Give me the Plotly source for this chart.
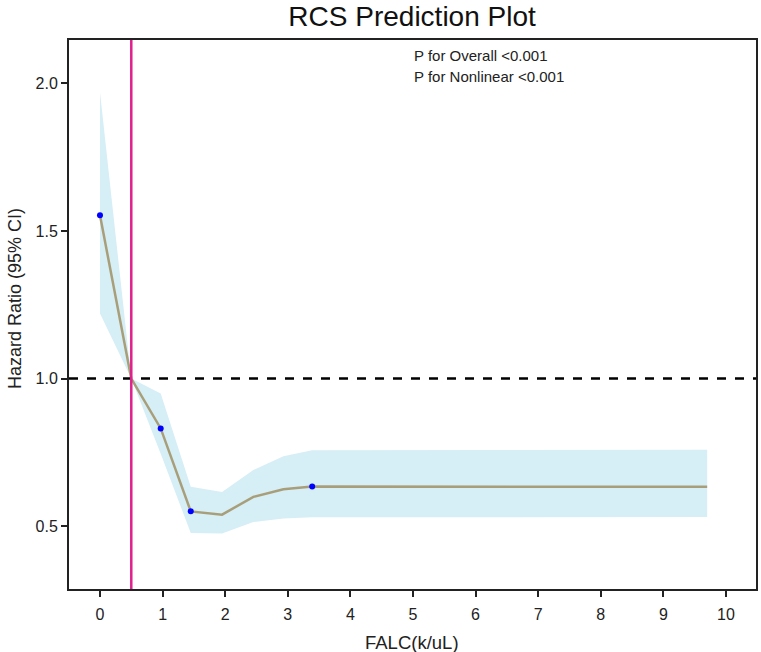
import plotly.graph_objects as go

# Curve (hazard ratio) and 95% CI band
x_vals = [0.0, 0.5, 0.97, 1.45, 1.95, 2.45, 2.93, 3.39, 9.7]
hr = [1.553, 1.0, 0.831, 0.550, 0.539, 0.599, 0.625, 0.634, 0.633]
ci_upper = [1.97, 1.0, 0.949, 0.633, 0.616, 0.690, 0.737, 0.757, 0.759]
ci_lower = [1.22, 1.0, 0.745, 0.477, 0.475, 0.514, 0.526, 0.530, 0.531]

# Knot points (blue dots)
knot_x = [0.0, 0.97, 1.45, 3.39]
knot_y = [1.553, 0.831, 0.550, 0.634]

ref_x = 0.5
ref_hr = 1.0
x_ticks = list(range(0, 11))
y_ticks = [0.5, 1.0, 1.5, 2.0]
annot_lines = ["P for Overall <0.001", "P for Nonlinear <0.001"]
x_title = "FALC(k/uL)"
y_title = "Hazard Ratio (95% CI)"

FONT = "Liberation Sans, Arial, sans-serif"

W, H = 761, 652
L, R, T, B = 69, 5, 40, 63
pw, ph = W - L - R, H - T - B


def px_to_paper(px, py):
    return (px - L) / pw, 1 - (py - T) / ph


fig = go.Figure()
fig.add_trace(go.Scatter(x=x_vals, y=ci_upper, mode="lines", line=dict(width=0),
                         hoverinfo="skip", showlegend=False))
fig.add_trace(go.Scatter(x=x_vals, y=ci_lower, mode="lines", line=dict(width=0),
                         fill="tonexty", fillcolor="#d6eef5", hoverinfo="skip", showlegend=False))
fig.add_trace(go.Scatter(x=x_vals, y=hr, mode="lines",
                         line=dict(color="#a89f7a", width=2.5), showlegend=False))
fig.add_trace(go.Scatter(x=knot_x, y=knot_y, mode="markers",
                         marker=dict(color="#0000ff", size=6), showlegend=False))

fig.add_hline(y=ref_hr, line=dict(color="black", width=2.5, dash="dash"))
fig.add_vline(x=ref_x, line=dict(color="#e0208c", width=2.5))

for i, t in enumerate(annot_lines):
    ax, ay = px_to_paper(412, 55 + i * 21.5)
    fig.add_annotation(x=ax, y=ay, xref="paper", yref="paper",
                       text=t, showarrow=False, xanchor="left", yanchor="middle",
                       font=dict(family=FONT, size=15, color="#222"))

# axis titles placed as paper annotations
ax, ay = px_to_paper(15, 299)
fig.add_annotation(x=ax, y=ay, xref="paper", yref="paper", text=y_title,
                   textangle=-90, showarrow=False, xanchor="center", yanchor="middle",
                   font=dict(family=FONT, size=18, color="#222"))
ax, ay = px_to_paper(411.5, 642)
fig.add_annotation(x=ax, y=ay, xref="paper", yref="paper", text=x_title,
                   showarrow=False, xanchor="center", yanchor="middle",
                   font=dict(family=FONT, size=18.5, color="#222"))

fig.update_layout(
    width=W, height=H,
    margin=dict(l=L, r=R, t=T, b=B),
    paper_bgcolor="white", plot_bgcolor="white",
    font=dict(family=FONT, size=16, color="#222"),
    title=dict(text="RCS Prediction Plot", x=0.5415, xanchor="center", y=0.975, yanchor="middle",
               font=dict(family=FONT, size=28, color="#111")),
    xaxis=dict(range=[-0.495, 10.48], tickvals=x_ticks, ticks="outside", ticklen=6, tickwidth=2,
               tickcolor="#222", showline=True, linecolor="#222", linewidth=2, mirror=True,
               showgrid=False, zeroline=False, automargin=False, tickfont=dict(size=16),
               ticklabelstandoff=4),
    yaxis=dict(range=[0.287, 2.147], tickvals=y_ticks, tickformat=".1f", ticks="outside",
               ticklen=6, tickwidth=2, tickcolor="#222", showline=True, linecolor="#222",
               linewidth=2, mirror=True, showgrid=False, zeroline=False, automargin=False,
               tickfont=dict(size=16)),
)

fig.write_html("out.html")
